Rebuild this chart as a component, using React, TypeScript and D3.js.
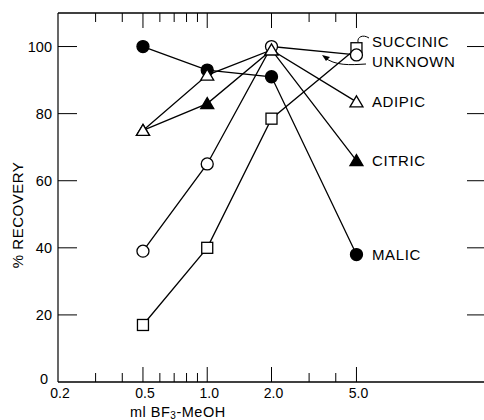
import * as d3 from "d3";

const doses = [0.5, 1.0, 2.0, 5.0];
const malic = [100, 93, 91, 38];
const citric = [75, 83, 99, 66];
const adipic = [75, 91.5, 99, 83.5];
const unknown = [39, 65, 100, 97.5];
const succinic = [17, 40, 78.5, 99.5];

const xMajor = [0.5, 1.0, 2.0, 5.0];
const xMinor = [0.3, 0.4, 0.6, 0.7, 0.8, 0.9, 3, 4];
const xLabels = [0.2, 0.5, 1.0, 2.0, 5.0];
const yTicks = [20, 40, 60, 80, 100];

type Series = { name: string; values: number[]; marker: string; filled: boolean };

const series: Series[] = [
  { name: "SUCCINIC", values: succinic, marker: "square", filled: false },
  { name: "UNKNOWN", values: unknown, marker: "circle", filled: false },
  { name: "ADIPIC", values: adipic, marker: "triangle", filled: false },
  { name: "CITRIC", values: citric, marker: "triangle", filled: true },
  { name: "MALIC", values: malic, marker: "circle", filled: true },
];

export default function App() {
  const width = 484;
  const height = 420;
  const left = 58;
  const right = 485;
  const top = 13;
  const bottom = 382;

  const x = d3.scaleLog().domain([0.2, 20]).range([left, right]);
  const y = d3.scaleLinear().domain([0, 110]).range([bottom, top]);

  const line = d3
    .line<number>()
    .x((_, i) => x(doses[i]))
    .y((d) => y(d));

  const font = "'Liberation Sans', Arial, sans-serif";

  const marker = (s: Series, v: number, i: number) => {
    const cx = x(doses[i]);
    const cy = y(v);
    const fill = s.filled ? "black" : "white";
    const key = s.name + i;
    if (s.marker === "circle")
      return <circle key={key} cx={cx} cy={cy} r={6} fill={fill} stroke="black" strokeWidth={1.3} />;
    if (s.marker === "square")
      return <rect key={key} x={cx - 5.5} y={cy - 5.5} width={11} height={11} fill={fill} stroke="black" strokeWidth={1.3} />;
    return (
      <path
        key={key}
        d={`M${cx},${cy - 6} L${cx + 6.5},${cy + 5} L${cx - 6.5},${cy + 5} Z`}
        fill={fill}
        stroke="black"
        strokeWidth={1.3}
      />
    );
  };

  // filled markers underneath, open ones on top
  const markerOrder = [...series].sort((a, b) => Number(b.filled) - Number(a.filled));

  // label positions next to the 5.0 end points
  const labelY: Record<string, number> = {
    SUCCINIC: y(101.5),
    UNKNOWN: y(95.5),
    ADIPIC: y(83.5),
    CITRIC: y(66),
    MALIC: y(38),
  };

  return (
    <svg
      width={width}
      height={height}
      style={{ position: "absolute", left: 0, top: 0, background: "white" }}
      fontFamily={font}
    >
      {/* frame */}
      <line x1={left} x2={right} y1={top} y2={top} stroke="black" strokeWidth={1.5} />
      <line x1={left} x2={right} y1={bottom} y2={bottom} stroke="black" strokeWidth={1.5} />
      <line x1={left} x2={left} y1={top} y2={bottom} stroke="black" strokeWidth={1.2} />

      {/* x ticks */}
      {xMajor.map((t) => (
        <g key={"xM" + t}>
          <line x1={x(t)} x2={x(t)} y1={bottom} y2={bottom - 15} stroke="black" strokeWidth={1} />
          <line x1={x(t)} x2={x(t)} y1={top} y2={top + 15} stroke="black" strokeWidth={1} />
        </g>
      ))}
      {xMinor.map((t) => (
        <g key={"xm" + t}>
          <line x1={x(t)} x2={x(t)} y1={bottom} y2={bottom - 9} stroke="black" strokeWidth={1} />
          <line x1={x(t)} x2={x(t)} y1={top} y2={top + 9} stroke="black" strokeWidth={1} />
        </g>
      ))}
      {xLabels.map((t) => (
        <text key={"xl" + t} x={x(t) + 2} y={bottom + 16} textAnchor="middle" fontSize={14}>
          {t.toFixed(1)}
        </text>
      ))}

      {/* y ticks */}
      {yTicks.map((t) => (
        <g key={"y" + t}>
          <line x1={left} x2={left + 19} y1={y(t)} y2={y(t)} stroke="black" strokeWidth={1} />
          <line x1={467} x2={right} y1={y(t)} y2={y(t)} stroke="black" strokeWidth={1} />
          <text x={52} y={y(t) + 5} textAnchor="end" fontSize={14.5}>
            {t}
          </text>
        </g>
      ))}
      <text x={48} y={bottom + 2} textAnchor="end" fontSize={14.5}>
        0
      </text>

      {/* axis titles */}
      <text x={130} y={417} fontSize={14.5} letterSpacing={0.5}>
        ml BF<tspan fontSize={10} dy={2}>3</tspan>
        <tspan dy={-2}>-MeOH</tspan>
      </text>
      <text
        transform={`translate(23, 215) rotate(-90)`}
        textAnchor="middle"
        fontSize={15}
        letterSpacing={0.5}
      >
        % RECOVERY
      </text>

      {/* lines */}
      {series.map((s) => (
        <path key={"l" + s.name} d={line(s.values) ?? ""} fill="none" stroke="black" strokeWidth={1.3} />
      ))}

      {/* markers */}
      {markerOrder.map((s) => s.values.map((v, i) => marker(s, v, i)))}

      {/* labels */}
      {series.map((s) => (
        <text key={"t" + s.name} x={372} y={labelY[s.name] + 5.5} fontSize={15} letterSpacing={0.6}>
          {s.name}
        </text>
      ))}

      {/* pointer arrows */}
      <path d="M369,38 C363,34 357,37 358,42" fill="none" stroke="black" strokeWidth={1} />
      <path d="M366,64 C350,65 335,66 324,57" fill="none" stroke="black" strokeWidth={1} />
      <path d="M322,55 L330,57 L326,61 Z" fill="black" />
    </svg>
  );
}
